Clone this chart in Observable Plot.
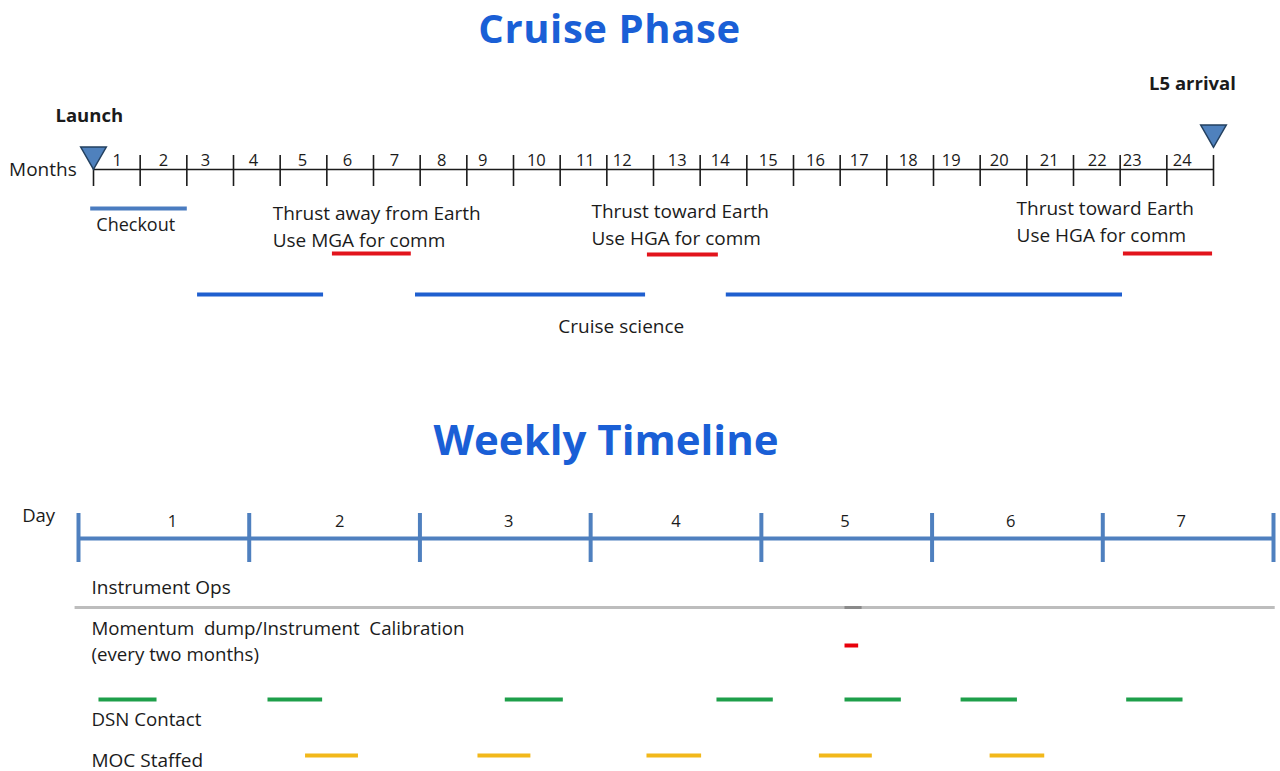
<!DOCTYPE html>
<html>
<head>
<meta charset="utf-8">
<script src="https://cdn.jsdelivr.net/npm/d3@7"></script>
<script src="https://cdn.jsdelivr.net/npm/@observablehq/plot@0.6"></script>
<style>
  html, body { margin: 0; padding: 0; background: #fff; }
  body { width: 1280px; height: 771px; position: relative; overflow: hidden; font-family: "Open Sans", sans-serif; }
  .title { position: absolute; left: 0; text-align: center; color: #1a5fd6; font-weight: 700; line-height: 1; white-space: nowrap; }
  #t1 { top: 8px; width: 1219px; font-size: 40px; letter-spacing: 0.6px; }
  #t2 { top: 418px; width: 1212px; font-size: 42px; }
  #top { position: absolute; left: 0; top: 70px; }
  #bottom { position: absolute; left: 0; top: 490px; }
</style>
</head>
<body>
<div class="title" id="t1">Cruise Phase</div>
<div class="title" id="t2">Weekly Timeline</div>
<div id="top"></div>
<div id="bottom"></div>
<script>
// ---------------- data: Cruise Phase (months) ----------------
const monthTicks = [0,1,2,3,4,5,6,7,8,9,10,11,12,13,14,15,16,17,18,19,20,21,22,23,24];
const monthLabels = ["1","2","3","4","5","6","7","8","9","10","11","12","13","14","15","16","17","18","19","20","21","22","23","24"];
const monthLabelAt = [0.51,1.5,2.4,3.43,4.48,5.44,6.45,7.46,8.34,9.49,10.54,11.33,12.51,13.43,14.46,15.47,16.41,17.46,18.38,19.41,20.48,21.51,22.26,23.33];
const milestones = ["Launch", "L5 arrival"];
const milestoneAt = [0, 24];
const milestoneLabelAt = [-0.09, 23.55];
const checkout = [[-0.06, 2.01]];
const thrustNotes = ["Thrust away from Earth", "Thrust toward Earth", "Thrust toward Earth"];
const commNotes = ["Use MGA for comm", "Use HGA for comm", "Use HGA for comm"];
const notesAt = [3.84, 10.67, 19.78];
const thrustComm = [[5.12, 6.81], [11.87, 13.39], [22.07, 23.98]];
const cruiseScience = [[2.23, 4.93], [6.9, 11.83], [13.56, 22.05]];

// ---------------- data: Weekly Timeline (days) ----------------
const dayTicks = [0,1,2,3,4,5,6,7];
const dayLabels = ["1","2","3","4","5","6","7"];
const dayLabelAt = [0.55,1.53,2.52,3.5,4.49,5.46,6.46];
const instrumentOps = [[-0.02, 7.01]];
const instrumentBump = [[4.49, 4.59]];
const momentumDump = [[4.49, 4.57]];
const dsnContact = [[0.12,0.46],[1.11,1.43],[2.50,2.84],[3.74,4.07],[4.49,4.82],[5.17,5.50],[6.14,6.47]];
const mocStaffed = [[1.33,1.64],[2.34,2.65],[3.33,3.65],[4.34,4.65],[5.34,5.66]];

// ---------------- layout (lanes, px from each panel top) ----------------
const TOP = { arrivalLabel: 14, launchLabel: 46, arrivalTri: 62, launchTri: 84, tickTop: 85, tickBot: 116, axis: 99, monthLabel: 90,
  checkout: 138, checkoutLabel: 155, note1: [143.5, 141, 138.5], note2: [170, 168.5, 165], red: [183, 184, 183], cruise: 224, cruiseLabel: 256 };
const BOT = { dayWord: 26, dayLabel: 31, axis: 48, tickTop: 23, tickBot: 72, opsLabel: 97, ops: 117, momLabel1: 139, momLabel2: 165,
  mom: 155, dsn: 209, dsnLabel: 230, moc: 265, mocLabel: 270 };

const seg = arr => arr.map(([s, e]) => ({ s, e }));
const INK = "#1b1b1b";
const FS = 19;

// ---------------- Cruise Phase plot ----------------
const topPlot = Plot.plot({
  width: 1280, height: 280,
  marginLeft: 93, marginRight: 67, marginTop: 0, marginBottom: 0,
  x: { domain: [0, 24], axis: null },
  y: { domain: [0, 280], range: [0, 280], axis: null },
  style: { fontFamily: "'Open Sans', sans-serif", fontSize: FS + "px", overflow: "visible", background: "transparent", color: INK },
  marks: [
    // axis line and ticks
    Plot.ruleY([TOP.axis], { x1: 0, x2: 24, stroke: INK, strokeWidth: 1.6 }),
    Plot.ruleX(monthTicks, { x: d => d, y1: TOP.tickTop, y2: TOP.tickBot, stroke: INK, strokeWidth: 1.6 }),
    Plot.text(monthLabels, { x: (d, i) => monthLabelAt[i], y: TOP.monthLabel, text: d => d, fontSize: 16.5, fill: INK }),
    Plot.text(["Months"], { x: -0.36, y: TOP.axis, text: d => d, textAnchor: "end", fontSize: 19, fill: INK }),
    // milestones
    Plot.dot([milestoneAt[0]], { x: d => d, y: TOP.launchTri, symbol: "triangle", r: 9.5, rotate: 180, fill: "#4f81bd", stroke: "#23405f", strokeWidth: 1.5 }),
    Plot.dot([milestoneAt[1]], { x: d => d, y: TOP.arrivalTri, symbol: "triangle", r: 9.5, rotate: 180, fill: "#4f81bd", stroke: "#23405f", strokeWidth: 1.5 }),
    Plot.text([milestones[0]], { x: milestoneLabelAt[0], y: TOP.launchLabel, text: d => d, fontWeight: 700, fontSize: 18.5, fill: INK }),
    Plot.text([milestones[1]], { x: milestoneLabelAt[1], y: TOP.arrivalLabel, text: d => d, fontWeight: 700, fontSize: 18.5, fill: INK }),
    // checkout
    Plot.ruleY(seg(checkout), { y: TOP.checkout, x1: "s", x2: "e", stroke: "#4a7cc0", strokeWidth: 4 }),
    Plot.text(["Checkout"], { x: checkout[0][0] + 0.12, y: TOP.checkoutLabel, text: d => d, textAnchor: "start", fontSize: 18, fill: INK }),
    // thrust notes
    Plot.text(thrustNotes, { x: (d, i) => notesAt[i], y: (d, i) => TOP.note1[i], text: d => d, textAnchor: "start", fill: INK }),
    Plot.text(commNotes, { x: (d, i) => notesAt[i], y: (d, i) => TOP.note2[i], text: d => d, textAnchor: "start", fill: INK }),
    Plot.ruleY(seg(thrustComm), { y: (d, i) => TOP.red[i], x1: "s", x2: "e", stroke: "#e2141c", strokeWidth: 4 }),
    // cruise science
    Plot.ruleY(seg(cruiseScience), { y: TOP.cruise, x1: "s", x2: "e", stroke: "#1f5fcf", strokeWidth: 4 }),
    Plot.text(["Cruise science"], { x: 11.31, y: TOP.cruiseLabel, text: d => d, fill: INK })
  ]
});
document.getElementById("top").appendChild(topPlot);

// ---------------- Weekly Timeline plot ----------------
const botPlot = Plot.plot({
  width: 1280, height: 281,
  marginLeft: 78, marginRight: 7, marginTop: 0, marginBottom: 0,
  x: { domain: [0, 7], axis: null },
  y: { domain: [0, 281], range: [0, 281], axis: null },
  style: { fontFamily: "'Open Sans', sans-serif", fontSize: FS + "px", overflow: "visible", background: "transparent", color: INK },
  marks: [
    Plot.ruleY([BOT.axis], { x1: 0, x2: 7, stroke: "#4f80bf", strokeWidth: 4 }),
    Plot.ruleX(dayTicks, { x: d => d, y1: BOT.tickTop, y2: BOT.tickBot, stroke: "#4f80bf", strokeWidth: 4 }),
    Plot.text(dayLabels, { x: (d, i) => dayLabelAt[i], y: BOT.dayLabel, text: d => d, fontSize: 16.5, fill: INK }),
    Plot.text(["Day"], { x: -0.33, y: BOT.dayWord, text: d => d, textAnchor: "start", fontSize: 18.5, fill: INK }),
    // instrument ops
    Plot.text(["Instrument Ops"], { x: 0.076, y: BOT.opsLabel, text: d => d, textAnchor: "start", fill: INK }),
    Plot.ruleY(seg(instrumentOps), { y: BOT.ops, x1: "s", x2: "e", stroke: "#bdbdbd", strokeWidth: 3 }),
    Plot.ruleY(seg(instrumentBump), { y: BOT.ops, x1: "s", x2: "e", stroke: "#8a8a8a", strokeWidth: 3 }),
    // momentum dump
    Plot.text(["Momentum  dump/Instrument  Calibration"], { x: 0.076, y: BOT.momLabel1, text: d => d, textAnchor: "start", fontSize: 18.7, fill: INK }),
    Plot.text(["(every two months)"], { x: 0.076, y: BOT.momLabel2, text: d => d, textAnchor: "start", fontSize: 18.7, fill: INK }),
    Plot.ruleY(seg(momentumDump), { y: BOT.mom, x1: "s", x2: "e", stroke: "#e8000b", strokeWidth: 4 }),
    // DSN contact
    Plot.ruleY(seg(dsnContact), { y: BOT.dsn, x1: "s", x2: "e", stroke: "#1e9f4a", strokeWidth: 4 }),
    Plot.text(["DSN Contact"], { x: 0.076, y: BOT.dsnLabel, text: d => d, textAnchor: "start", fontSize: 18.7, fill: INK }),
    // MOC staffed
    Plot.ruleY(seg(mocStaffed), { y: BOT.moc, x1: "s", x2: "e", stroke: "#f2b81a", strokeWidth: 4 }),
    Plot.text(["MOC Staffed"], { x: 0.076, y: BOT.mocLabel, text: d => d, textAnchor: "start", fill: INK })
  ]
});
document.getElementById("bottom").appendChild(botPlot);
</script>
</body>
</html>
